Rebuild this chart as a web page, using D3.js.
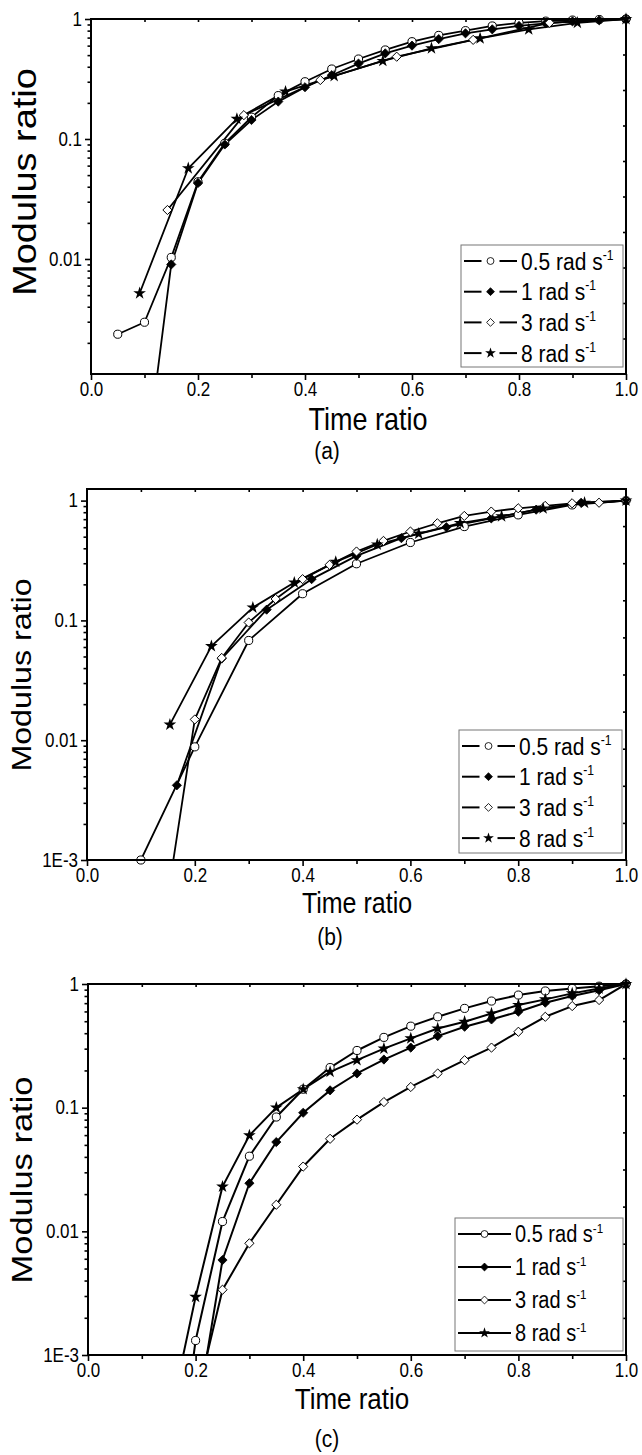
<!DOCTYPE html>
<html>
<head>
<meta charset="utf-8">
<script src="https://cdn.jsdelivr.net/npm/d3@7"></script>
<style>
  body { margin: 0; background: #fff; }
  text { font-family: "Liberation Sans", Arial, sans-serif; fill: #000; }
</style>
</head>
<body>
<svg id="fig" width="642" height="1455"></svg>
<script>
// series labels and x ticks
const seriesNames = ["0.5 rad s", "1 rad s", "3 rad s", "8 rad s"];
const xTicks = [0, 0.2, 0.4, 0.6, 0.8, 1.0];

// panel (a)
const a05X = [0.05, 0.1, 0.15, 0.2, 0.25, 0.3, 0.35, 0.4, 0.45, 0.5, 0.55, 0.6, 0.65, 0.7, 0.75, 0.8, 0.85, 0.9, 0.95, 1.0];
const a05Y = [0.00236, 0.00297, 0.0103, 0.044, 0.092, 0.152, 0.23, 0.30, 0.383, 0.464, 0.552, 0.647, 0.73, 0.80, 0.875, 0.93, 0.96, 0.98, 0.99, 1.0];
const a1X = [0.1, 0.15, 0.2, 0.25, 0.3, 0.35, 0.4, 0.45, 0.5, 0.55, 0.6, 0.65, 0.7, 0.75, 0.8, 0.85, 0.9, 0.95, 1.0];
const a1Y = [0.00016, 0.009, 0.043, 0.09, 0.144, 0.205, 0.27, 0.34, 0.425, 0.517, 0.6, 0.68, 0.76, 0.82, 0.875, 0.92, 0.955, 0.975, 1.0];
const a3X = [0.1429, 0.2857, 0.4286, 0.5714, 0.7143, 0.8571, 1.0];
const a3Y = [0.0256, 0.158, 0.31, 0.485, 0.67, 0.93, 1.0];
const a8X = [0.0909, 0.1818, 0.2727, 0.3636, 0.4545, 0.5455, 0.6364, 0.7273, 0.8182, 0.9091, 1.0];
const a8Y = [0.00518, 0.057, 0.147, 0.248, 0.335, 0.447, 0.57, 0.69, 0.82, 0.93, 1.0];

// panel (b)
const b05X = [0.1, 0.2, 0.3, 0.4, 0.5, 0.6, 0.7, 0.8, 0.9, 1.0];
const b05Y = [0.001, 0.0088, 0.068, 0.167, 0.297, 0.447, 0.607, 0.76, 0.92, 1.0];
const b1X = [0.1667, 0.25, 0.3333, 0.4167, 0.5, 0.5833, 0.6667, 0.75, 0.8333, 0.9167, 1.0];
const b1Y = [0.0042, 0.048, 0.123, 0.221, 0.346, 0.486, 0.60, 0.71, 0.84, 0.96, 1.0];
const b3X = [0.15, 0.2, 0.25, 0.3, 0.35, 0.4, 0.45, 0.5, 0.55, 0.6, 0.65, 0.7, 0.75, 0.8, 0.85, 0.9, 0.95, 1.0];
const b3Y = [0.0005, 0.0149, 0.0486, 0.096, 0.151, 0.221, 0.291, 0.376, 0.461, 0.552, 0.647, 0.745, 0.81, 0.863, 0.903, 0.95, 0.96, 1.0];
const b8X = [0.1538, 0.2308, 0.3077, 0.3846, 0.4615, 0.5385, 0.6154, 0.6923, 0.7692, 0.8462, 0.9231, 1.0];
const b8Y = [0.0135, 0.061, 0.128, 0.207, 0.308, 0.43, 0.53, 0.65, 0.74, 0.86, 0.96, 1.0];

// panel (c)
const c05X = [0.15, 0.2, 0.25, 0.3, 0.35, 0.4, 0.45, 0.5, 0.55, 0.6, 0.65, 0.7, 0.75, 0.8, 0.85, 0.9, 0.95, 1.0];
const c05Y = [0.00003, 0.00131, 0.012, 0.0405, 0.084, 0.141, 0.211, 0.29, 0.37, 0.456, 0.543, 0.635, 0.728, 0.814, 0.878, 0.92, 0.96, 1.0];
const c1X = [0.2, 0.25, 0.3, 0.35, 0.4, 0.45, 0.5, 0.55, 0.6, 0.65, 0.7, 0.75, 0.8, 0.85, 0.9, 0.95, 1.0];
const c1Y = [0.00028, 0.00586, 0.0245, 0.0527, 0.091, 0.138, 0.189, 0.245, 0.306, 0.379, 0.451, 0.517, 0.597, 0.706, 0.8, 0.89, 1.0];
const c3X = [0.2, 0.25, 0.3, 0.35, 0.4, 0.45, 0.5, 0.55, 0.6, 0.65, 0.7, 0.75, 0.8, 0.85, 0.9, 0.95, 1.0];
const c3Y = [0.00041, 0.00337, 0.008, 0.0164, 0.0334, 0.056, 0.08, 0.111, 0.147, 0.189, 0.242, 0.306, 0.411, 0.543, 0.663, 0.742, 1.0];
const c8X = [0.15, 0.2, 0.25, 0.3, 0.35, 0.4, 0.45, 0.5, 0.55, 0.6, 0.65, 0.7, 0.75, 0.8, 0.85, 0.9, 0.95, 1.0];
const c8Y = [0.00028, 0.00295, 0.023, 0.0597, 0.1, 0.141, 0.195, 0.242, 0.30, 0.363, 0.437, 0.495, 0.578, 0.676, 0.751, 0.84, 0.92, 1.0];

const svg = d3.select("#fig");
const markers = ["circle", "fdiamond", "odiamond", "star"];
const STRETCH = 1.15; // the original figure's text looks tall and narrow

const zip = (xs, ys) => xs.map((v, i) => ({ x: v, y: ys[i] }));

function markerPath(type) {
  if (type == "circle") return d3.symbol(d3.symbolCircle, 52)();
  if (type == "star") return d3.symbol(d3.symbolStar, 50)();
  const r = 4.6;
  return `M0,${-r}L${r},0L0,${r}L${-r},0Z`;
}
function markerFill(type) {
  return (type == "fdiamond" || type == "star") ? "#000" : "#fff";
}

const panels = [
  {
    name: "a", left: 91, right: 626, top: 19, bottom: 374, yMin: 0.0011, yMax: 1,
    yTicks: [0.01, 0.1, 1], yLabels: { 0.01: "0.01", 0.1: "0.1", 1: "1" },
    series: [zip(a05X, a05Y), zip(a1X, a1Y), zip(a3X, a3Y), zip(a8X, a8Y)],
    xTitle: { x: 368, y: 430, size: 27 }, yTitle: { x: 36, y: 182, size: 33 },
    tag: { text: "(a)", x: 327, y: 459, size: 21 },
    legend: { x: 461, y: 245, w: 162, h: 122, row: 30.7, gap: true, size: 21 },
    lw: 1.8
  },
  {
    name: "b", left: 87, right: 626, top: 489, bottom: 860, yMin: 0.001, yMax: 1.25,
    yTicks: [0.001, 0.01, 0.1, 1], yLabels: { 0.001: "1E-3", 0.01: "0.01", 0.1: "0.1", 1: "1" },
    series: [zip(b05X, b05Y), zip(b1X, b1Y), zip(b3X, b3Y), zip(b8X, b8Y)],
    xTitle: { x: 357, y: 913, size: 25 }, yTitle: { x: 31, y: 675, size: 28 },
    tag: { text: "(b)", x: 330, y: 945, size: 21 },
    legend: { x: 459, y: 730, w: 163, h: 123, row: 30.7, gap: true, size: 21 },
    lw: 1.8
  },
  {
    name: "c", left: 88, right: 626, top: 984, bottom: 1355, yMin: 0.001, yMax: 1,
    yTicks: [0.001, 0.01, 0.1, 1], yLabels: { 0.001: "1E-3", 0.01: "0.01", 0.1: "0.1", 1: "1" },
    series: [zip(c05X, c05Y), zip(c1X, c1Y), zip(c3X, c3Y), zip(c8X, c8Y)],
    xTitle: { x: 352, y: 1409, size: 26 }, yTitle: { x: 32, y: 1180, size: 30 },
    tag: { text: "(c)", x: 327, y: 1447, size: 21 },
    legend: { x: 455, y: 1218, w: 168, h: 133, row: 33, gap: false, size: 20 },
    lw: 2
  }
];

function drawPanel(p) {
  const g = svg.append("g");
  const x = d3.scaleLinear().domain([0, 1]).range([p.left, p.right]);
  const y = d3.scaleLog().domain([p.yMin, p.yMax]).range([p.bottom, p.top]);

  svg.append("clipPath").attr("id", "clip" + p.name)
    .append("rect")
    .attr("x", p.left).attr("y", p.top)
    .attr("width", p.right - p.left).attr("height", p.bottom - p.top);

  // minor ticks on log axis
  const yMinor = [];
  for (let e = -4; e <= 0; e++) {
    for (let d = 2; d <= 9; d++) {
      const v = d * Math.pow(10, e);
      if (v > p.yMin && v < p.yMax) yMinor.push(v);
    }
  }
  const xMinor = [0.1, 0.3, 0.5, 0.7, 0.9];

  const styleAxis = sel => {
    sel.select(".domain").remove();
    sel.selectAll("line").attr("stroke", "#000").attr("stroke-width", 1.6);
  };
  const styleLabels = sel => {
    sel.selectAll("text")
      .attr("font-size", 17).attr("font-family", "Liberation Sans")
      .attr("transform", `scale(1,${STRETCH})`);
  };

  // bottom
  g.append("g").attr("transform", `translate(0,${p.bottom})`)
    .call(d3.axisBottom(x).tickValues(xTicks).tickFormat(d3.format(".1f")).tickSize(6).tickPadding(1))
    .call(styleAxis).call(styleLabels);
  g.append("g").attr("transform", `translate(0,${p.bottom})`)
    .call(d3.axisBottom(x).tickValues(xMinor).tickFormat("").tickSize(4))
    .call(styleAxis);

  // top (inward)
  g.append("g").attr("transform", `translate(0,${p.top})`)
    .call(d3.axisTop(x).tickValues([0.1, 0.2, 0.3, 0.4, 0.5, 0.6, 0.7, 0.8, 0.9]).tickFormat("").tickSize(-3))
    .call(styleAxis);

  // left
  g.append("g").attr("transform", `translate(${p.left},0)`)
    .call(d3.axisLeft(y).tickValues(p.yTicks).tickFormat(d => p.yLabels[d]).tickSize(6).tickPadding(3))
    .call(styleAxis).call(styleLabels);
  g.append("g").attr("transform", `translate(${p.left},0)`)
    .call(d3.axisLeft(y).tickValues(yMinor).tickFormat("").tickSize(3.5))
    .call(styleAxis);

  // right (inward, evenly spaced)
  const yr = d3.scaleLinear().domain([0, 10]).range([p.bottom, p.top]);
  g.append("g").attr("transform", `translate(${p.right},0)`)
    .call(d3.axisRight(yr).tickValues([1, 2, 3, 4, 5, 6, 7, 8, 9]).tickFormat("").tickSize(-3))
    .call(styleAxis);

  // series
  const line = d3.line().x(d => x(d.x)).y(d => y(d.y));
  const plot = g.append("g").attr("clip-path", `url(#clip${p.name})`);
  p.series.forEach((s, i) => {
    plot.append("path").datum(s)
      .attr("d", line)
      .attr("fill", "none").attr("stroke", "#000")
      .attr("stroke-width", p.lw).attr("stroke-linejoin", "round");
  });
  p.series.forEach((s, i) => {
    g.append("g").selectAll("path")
      .data(s.filter(d => d.y >= p.yMin * 0.999 && d.y <= p.yMax))
      .enter().append("path")
      .attr("d", markerPath(markers[i]))
      .attr("transform", d => `translate(${x(d.x)},${y(d.y)})`)
      .attr("fill", markerFill(markers[i]))
      .attr("stroke", markers[i] == "star" ? "none" : "#000")
      .attr("stroke-width", markers[i] == "fdiamond" ? 0.8 : 1);
  });

  // frame
  g.append("rect")
    .attr("x", p.left).attr("y", p.top)
    .attr("width", p.right - p.left).attr("height", p.bottom - p.top)
    .attr("fill", "none").attr("stroke", "#000").attr("stroke-width", 2);

  // legend
  const L = p.legend;
  const lg = g.append("g");
  lg.append("rect").attr("x", L.x).attr("y", L.y).attr("width", L.w).attr("height", L.h)
    .attr("fill", "#fff").attr("stroke", "#777").attr("stroke-width", 1);
  seriesNames.forEach((name, i) => {
    const cy = L.y + 16 + i * L.row;
    const x0 = L.x + 3, x1 = L.x + 56, xm = (x0 + x1) / 2;
    if (L.gap) {
      lg.append("line").attr("x1", x0).attr("x2", xm - 9).attr("y1", cy).attr("y2", cy)
        .attr("stroke", "#000").attr("stroke-width", 2);
      lg.append("line").attr("x1", xm + 9).attr("x2", x1).attr("y1", cy).attr("y2", cy)
        .attr("stroke", "#000").attr("stroke-width", 2);
    } else {
      lg.append("line").attr("x1", x0).attr("x2", x1).attr("y1", cy).attr("y2", cy)
        .attr("stroke", "#000").attr("stroke-width", 2);
    }
    lg.append("path").attr("d", markerPath(markers[i]))
      .attr("transform", `translate(${xm},${cy}) scale(0.85)`)
      .attr("fill", markerFill(markers[i]))
      .attr("stroke", markers[i] == "star" ? "none" : "#000");
    const t = lg.append("text")
      .attr("transform", `translate(${x1 + 4},${cy + L.size * 0.36 * STRETCH}) scale(1,${STRETCH})`)
      .attr("font-size", L.size);
    t.append("tspan").text(name);
    t.append("tspan").attr("dy", -L.size * 0.42).attr("font-size", L.size * 0.58).text("-1");
  });

  // titles
  g.append("text")
    .attr("transform", `translate(${p.xTitle.x},${p.xTitle.y}) scale(1,${STRETCH})`)
    .attr("text-anchor", "middle").attr("font-size", p.xTitle.size).text("Time ratio");
  g.append("text")
    .attr("transform", `translate(${p.yTitle.x},${p.yTitle.y}) rotate(-90) scale(${STRETCH},1)`)
    .attr("text-anchor", "middle").attr("font-size", p.yTitle.size).text("Modulus ratio");
  g.append("text")
    .attr("transform", `translate(${p.tag.x},${p.tag.y}) scale(1,${STRETCH})`)
    .attr("text-anchor", "middle").attr("font-size", p.tag.size).text(p.tag.text);
}

panels.forEach(drawPanel);
</script>
</body>
</html>
